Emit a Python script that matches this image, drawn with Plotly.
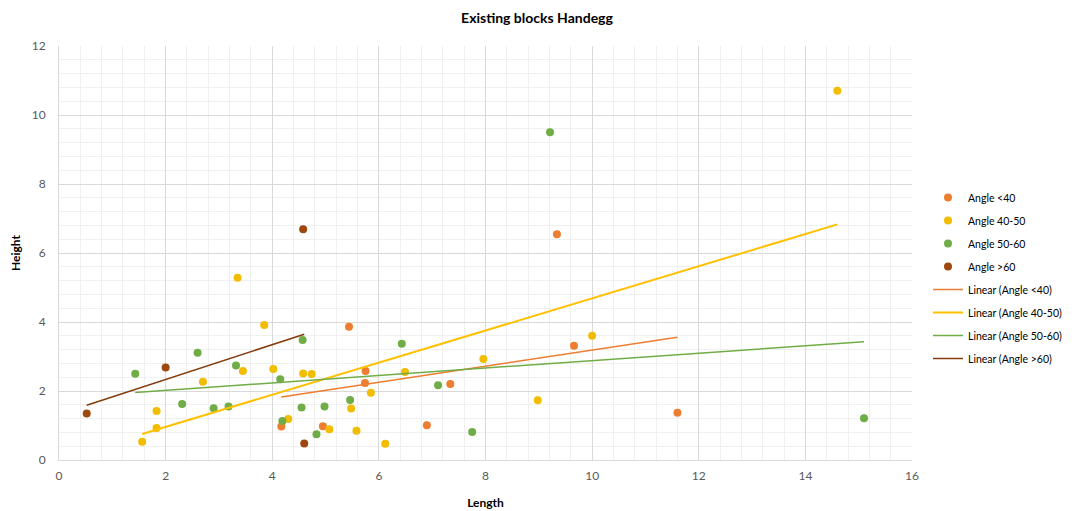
import numpy as np
import plotly.graph_objects as go

# Data (Length, Height)
lt40_x = [4.17, 4.95, 5.44, 5.75, 5.74, 7.34, 6.90, 9.66, 11.60, 9.34]
lt40_y = [0.97, 0.98, 3.86, 2.58, 2.23, 2.20, 1.01, 3.31, 1.37, 6.54]

a4050_x = [3.35, 3.85, 2.70, 3.45, 4.02, 4.58, 4.74, 1.83, 1.83, 1.56, 4.30, 5.07,
           5.48, 5.58, 6.12, 5.85, 6.49, 7.96, 8.98, 10.00, 14.60]
a4050_y = [5.28, 3.91, 2.27, 2.58, 2.64, 2.51, 2.49, 1.42, 0.93, 0.53, 1.19, 0.89,
           1.49, 0.85, 0.47, 1.95, 2.55, 2.93, 1.73, 3.60, 10.70]

a5060_x = [9.21, 4.57, 2.60, 1.43, 3.32, 4.15, 2.31, 2.90, 3.18, 4.19, 4.55, 4.98,
           4.83, 5.46, 6.43, 7.11, 7.75, 15.10]
a5060_y = [9.50, 3.48, 3.11, 2.50, 2.74, 2.34, 1.62, 1.50, 1.55, 1.13, 1.52, 1.55,
           0.75, 1.74, 3.37, 2.17, 0.81, 1.21]

gt60_x = [0.52, 2.00, 4.58, 4.60]
gt60_y = [1.35, 2.68, 6.69, 0.48]

names = ["Angle <40", "Angle 40-50", "Angle 50-60", "Angle >60"]
marker_colors = ["#ED7D31", "#F2BC00", "#70AD47", "#9E480E"]
line_colors = ["#ED7D31", "#FFC000", "#70AD47", "#843C0C"]
line_widths = [1.5, 2, 1.5, 1.5]
series = [(lt40_x, lt40_y), (a4050_x, a4050_y), (a5060_x, a5060_y), (gt60_x, gt60_y)]

fig = go.Figure()
for i, ((xs, ys), name, col) in enumerate(zip(series, names, marker_colors)):
    fig.add_trace(go.Scatter(
        x=xs, y=ys, mode="markers", name=name, legendgroup=f"m{i}",
        marker=dict(color=col, size=8, line=dict(width=0)),
    ))

for i, ((xs, ys), name, col, w) in enumerate(zip(series, names, line_colors, line_widths)):
    xa = np.array(xs)
    ya = np.array(ys)
    slope, inter = np.polyfit(xa, ya, 1)
    lx = np.array([xa.min(), xa.max()])
    fig.add_trace(go.Scatter(
        x=lx, y=slope * lx + inter, mode="lines", name=f"Linear ({name})",
        legendgroup=f"l{i}", line=dict(color=col, width=w),
    ))

W, H = 1067, 503
font_fam = "Lato, 'Open Sans', sans-serif"
fig.update_layout(
    width=W, height=H,
    margin=dict(l=51, r=163, t=38, b=51),
    paper_bgcolor="white", plot_bgcolor="white",
    font=dict(family=font_fam, color="#595959", size=12),
    title=dict(text="<b>Existing blocks Handegg</b>", x=529 / W, xanchor="center",
               xref="container", yref="container",
               y=1 - 10 / H, yanchor="middle", font=dict(size=14, color="#000000")),
    showlegend=True,
    legend=dict(xref="container", yref="container",
                x=920 / W, y=1 - 175 / H, xanchor="left", yanchor="top",
                font=dict(size=10.5, color="#000000"), tracegroupgap=4,
                itemwidth=30, bgcolor="rgba(0,0,0,0)"),
)
fig.update_xaxes(
    range=[0, 16], dtick=2, tick0=0, showgrid=True, gridcolor="#D9D9D9", gridwidth=1,
    zeroline=False, showline=True, linecolor="#D9D9D9", automargin=False,
    ticks="outside", ticklen=5, tickcolor="rgba(0,0,0,0)",
    minor=dict(dtick=0.4, showgrid=True, gridcolor="#F0F0F0", gridwidth=1, ticks=""),
    title=dict(text="<b>Length</b>", font=dict(size=12, color="#000000"), standoff=16),
    tickfont=dict(size=12, color="#595959"),
)
fig.update_yaxes(
    range=[0, 12], dtick=2, tick0=0, showgrid=True, gridcolor="#D9D9D9", gridwidth=1,
    zeroline=False, showline=True, linecolor="#D9D9D9", automargin=False,
    ticks="outside", ticklen=10, tickcolor="rgba(0,0,0,0)",
    minor=dict(dtick=0.4, showgrid=True, gridcolor="#F0F0F0", gridwidth=1, ticks=""),
    title=dict(text="<b>Height</b>", font=dict(size=12, color="#000000"), standoff=12),
    tickfont=dict(size=12, color="#595959"),
)

fig.write_html("out.html")
